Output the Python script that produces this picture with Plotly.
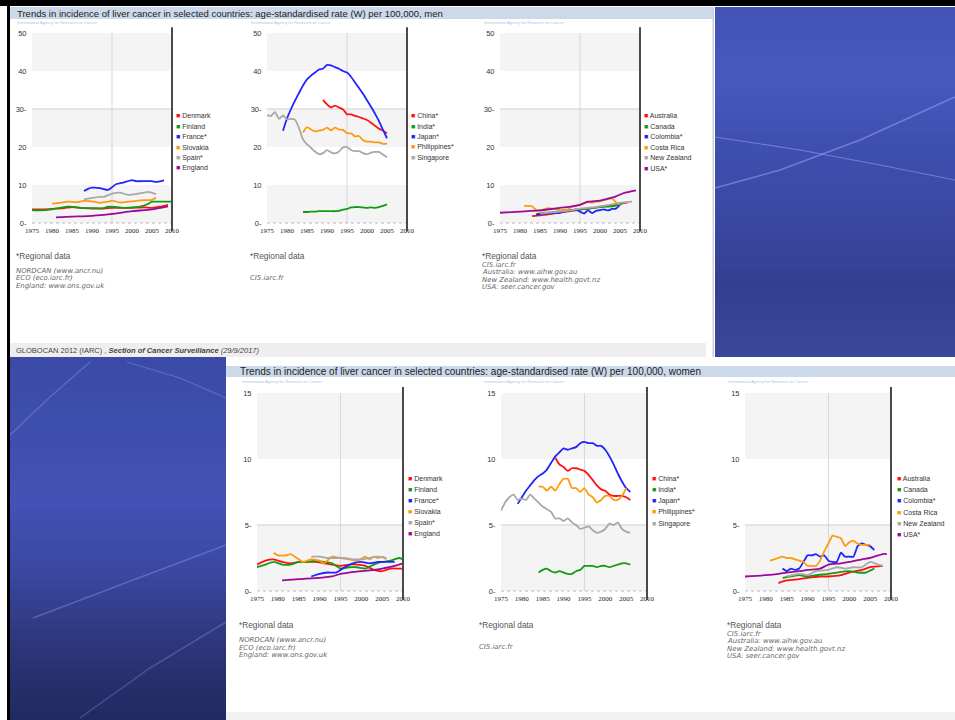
import plotly.graph_objects as go

W, H = 955, 720

# ---------------- data ----------------
YEAR_TICKS = [1975, 1980, 1985, 1990, 1995, 2000, 2005, 2010]
YEAR_LABELS = ["1975", "1980", "1985", "1990", "1995", "2000", "2005", "2010"]
MEN_Y_TICKS = [0, 10, 20, 30, 40, 50]
MEN_Y_LABELS = ["0-", "10", "20", "30-", "40", "50"]
WOMEN_Y_TICKS = [0, 5, 10, 15]
WOMEN_Y_LABELS = ["0-", "5-", "10", "15"]

EU_NAMES = ["Denmark", "Finland", "France*", "Slovakia", "Spain*", "England"]
AS_NAMES = ["China*", "India*", "Japan*", "Philippines*", "Singapore"]
AM_NAMES = ["Australia", "Canada", "Colombia*", "Costa Rica", "New Zealand", "USA*"]

DK_M_X = [1975, 1978, 1980, 1983, 1985, 1988, 1990, 1993, 1995, 1998, 2000, 2003, 2005, 2007, 2009]
DK_M_Y = [3.6, 3.6, 3.7, 3.9, 4.2, 3.9, 3.8, 3.8, 4.0, 4.0, 4.0, 4.1, 4.0, 4.3, 4.8]
FI_M_X = [1975, 1977, 1980, 1982, 1984, 1986, 1988, 1990, 1993, 1994, 1996, 1998, 2000, 2002, 2004, 2005, 2007, 2010]
FI_M_Y = [3.4, 3.3, 3.6, 4.0, 4.3, 4.2, 3.9, 3.9, 3.9, 4.3, 4.2, 4.0, 4.1, 4.3, 5.0, 5.6, 5.6, 5.6]
FR_M_X = [1988, 1989, 1990, 1992, 1994, 1995, 1996, 1998, 2000, 2001, 2003, 2005, 2006, 2008]
FR_M_Y = [8.4, 9.0, 9.3, 9.2, 8.7, 9.4, 10.2, 10.7, 11.3, 11.0, 11.0, 11.0, 10.8, 11.2]
SK_M_X = [1980, 1982, 1984, 1986, 1988, 1990, 1992, 1994, 1995, 1997, 2000, 2003, 2005, 2006]
SK_M_Y = [5.1, 5.3, 5.6, 5.5, 5.8, 5.7, 5.3, 5.6, 5.9, 5.4, 5.7, 6.0, 6.1, 6.7]
ES_M_X = [1988, 1990, 1992, 1993, 1995, 1997, 1999, 2001, 2003, 2004, 2006]
ES_M_Y = [6.2, 6.6, 6.9, 6.9, 7.7, 8.0, 7.4, 7.6, 8.0, 8.2, 7.6]
EN_M_X = [1981, 1985, 1990, 1995, 2000, 2005, 2009]
EN_M_Y = [1.5, 1.7, 1.9, 2.4, 3.1, 3.6, 4.4]

CN_M_X = list(range(1989, 2006))
CN_M_Y = [32.4, 31.2, 30.4, 30.9, 30.4, 29.9, 28.6, 28.6, 28.2, 27.9, 27.5, 27.1, 26.4, 25.6, 24.8, 24.3, 23.6]
IN_M_X = list(range(1984, 2006))
IN_M_Y = [2.9, 2.9, 3.0, 3.0, 3.1, 3.1, 3.1, 3.1, 3.1, 3.2, 3.5, 3.7, 4.1, 4.2, 4.2, 4.1, 4.0, 4.1, 4.0, 4.2, 4.5, 4.9]
JP_M_X = list(range(1979, 2006))
JP_M_Y = [24.3, 27.5, 30.0, 32.2, 34.2, 36.2, 37.8, 38.8, 39.6, 40.4, 40.6, 41.6, 41.5, 41.0, 40.6, 40.0, 39.6,
          38.5, 37.0, 35.5, 34.0, 32.3, 30.6, 28.8, 26.8, 24.5, 22.3]
PH_M_X = list(range(1984, 2006))
PH_M_Y = [23.8, 25.2, 24.6, 24.1, 24.3, 24.5, 25.1, 24.4, 25.1, 24.6, 24.5, 23.6, 23.6, 22.8, 22.9, 21.8, 21.4,
          21.4, 21.2, 21.2, 20.8, 20.9]
SG_M_X = list(range(1975, 2006))
SG_M_Y = [28.3, 28.2, 29.2, 27.4, 28.3, 27.3, 27.4, 27.2, 25.0, 22.0, 20.7, 19.8, 18.8, 18.1, 18.4, 19.2, 18.6,
          18.3, 18.8, 19.9, 20.0, 19.2, 18.9, 18.9, 18.4, 18.1, 18.5, 18.7, 18.7, 18.0, 17.3]

AU_M_X = [1983, 1985, 1988, 1990, 1993, 1995, 1998, 2000, 2003, 2005, 2007]
AU_M_Y = [1.8, 2.0, 2.4, 2.8, 3.2, 3.5, 3.9, 4.3, 4.7, 5.1, 5.4]
CA_M_X = [1984, 1986, 1988, 1990, 1992, 1995, 1998, 2000, 2002, 2004, 2005, 2006]
CA_M_Y = [2.3, 2.7, 2.8, 3.1, 3.3, 3.5, 3.9, 4.2, 4.3, 4.6, 4.9, 5.3]
CO_M_X = list(range(1984, 2006))
CO_M_Y = [2.2, 2.3, 2.4, 2.5, 2.6, 2.6, 2.7, 3.0, 3.2, 3.4, 3.6, 3.0, 2.5, 3.3, 2.6, 3.2, 3.4, 3.6, 3.3, 3.7, 3.8, 4.8]
CR_M_X = list(range(1981, 2006))
CR_M_Y = [4.5, 4.5, 4.4, 3.5, 3.3, 3.6, 3.9, 3.8, 3.6, 3.4, 3.5, 3.6, 4.3, 4.6, 4.8, 5.2, 5.5, 5.3, 5.6, 5.7,
          6.0, 6.3, 6.5, 5.4, 4.8]
NZ_M_X = [1985, 1988, 1990, 1993, 1995, 1998, 2000, 2003, 2005, 2008]
NZ_M_Y = [2.5, 2.8, 3.0, 3.4, 3.8, 4.1, 4.4, 4.9, 5.3, 5.6]
US_M_X = [1975, 1980, 1985, 1988, 1990, 1993, 1995, 1997, 2000, 2002, 2004, 2006, 2008, 2009]
US_M_Y = [2.7, 3.0, 3.3, 3.7, 4.0, 4.4, 4.8, 5.6, 5.9, 6.4, 7.0, 7.9, 8.4, 8.6]

DK_W_X = [1975, 1977, 1979, 1981, 1983, 1985, 1987, 1989, 1991, 1993, 1995, 1997, 1999, 2001, 2003, 2005, 2007, 2009, 2010]
DK_W_Y = [2.0, 2.3, 2.4, 2.2, 2.1, 2.2, 2.2, 2.2, 2.1, 2.0, 1.9, 2.0, 2.0, 1.9, 1.6, 1.5, 1.7, 1.7, 1.7]
FI_W_X = [1975, 1977, 1979, 1981, 1983, 1985, 1987, 1989, 1991, 1993, 1995, 1997, 1999, 2001, 2003, 2005, 2007, 2009, 2010]
FI_W_Y = [1.8, 2.0, 2.2, 2.0, 2.0, 2.2, 2.2, 2.3, 2.2, 2.1, 1.7, 1.8, 1.8, 1.7, 2.0, 2.2, 2.3, 2.5, 2.4]
FR_W_X = [1988, 1990, 1992, 1994, 1996, 1998, 2000, 2002, 2004, 2006, 2008]
FR_W_Y = [1.1, 1.3, 1.4, 1.4, 1.8, 2.1, 2.2, 2.1, 2.2, 2.2, 2.2]
SK_W_X = [1979, 1980, 1982, 1983, 1985, 1986, 1988, 1990, 1991, 1993, 1995, 1997, 1999, 2001, 2002, 2003, 2004, 2005, 2006]
SK_W_Y = [2.9, 2.7, 2.7, 2.8, 2.4, 2.2, 2.4, 2.3, 2.1, 2.6, 2.5, 2.4, 2.3, 2.6, 2.4, 2.6, 2.5, 2.6, 2.4]
ES_W_X = [1988, 1990, 1992, 1994, 1996, 1998, 2000, 2002, 2004, 2006]
ES_W_Y = [2.6, 2.6, 2.5, 2.5, 2.5, 2.4, 2.4, 2.5, 2.6, 2.5]
EN_W_X = [1981, 1985, 1990, 1993, 1995, 1997, 2000, 2003, 2005, 2008, 2010]
EN_W_Y = [0.8, 0.9, 1.0, 1.1, 1.3, 1.4, 1.5, 1.6, 1.7, 1.9, 2.1]

CN_W_X = list(range(1988, 2007))
CN_W_Y = [10.1, 9.6, 9.4, 9.1, 9.3, 9.3, 9.2, 9.1, 8.8, 8.4, 8.0, 7.7, 7.6, 7.3, 7.2, 7.2, 7.2, 7.1, 6.9]
IN_W_X = list(range(1984, 2007))
IN_W_Y = [1.4, 1.6, 1.7, 1.5, 1.4, 1.5, 1.4, 1.3, 1.3, 1.5, 1.6, 1.9, 1.9, 1.9, 1.8, 1.9, 1.9, 1.8, 1.9, 2.0,
          2.1, 2.1, 2.0]
JP_W_X = list(range(1979, 2007))
JP_W_Y = [6.6, 7.1, 7.6, 8.0, 8.4, 8.7, 8.9, 9.2, 9.7, 10.2, 10.5, 10.8, 10.7, 10.8, 10.9, 11.2, 11.3, 11.2,
          11.2, 11.0, 11.0, 10.7, 10.2, 9.6, 8.9, 8.3, 7.8, 7.5]
PH_W_X = list(range(1984, 2006))
PH_W_Y = [7.9, 7.9, 7.6, 7.9, 7.6, 8.1, 8.5, 8.5, 7.8, 7.8, 7.5, 7.8, 7.3, 7.1, 6.7, 6.9, 7.2, 7.2, 6.9, 6.9,
          7.2, 7.8]
SG_W_X = list(range(1975, 2007))
SG_W_Y = [6.1, 6.7, 7.1, 7.3, 6.9, 7.0, 6.9, 7.3, 7.0, 6.7, 6.4, 6.2, 6.0, 5.5, 5.5, 5.3, 5.5, 5.2, 5.0, 4.7,
          4.8, 4.9, 4.6, 4.4, 4.5, 4.7, 5.1, 5.0, 5.2, 4.7, 4.5, 4.4]

AU_W_X = [1983, 1985, 1988, 1990, 1993, 1995, 1998, 2000, 2003, 2005, 2008]
AU_W_Y = [0.6, 0.8, 0.9, 1.0, 1.1, 1.1, 1.2, 1.4, 1.6, 1.8, 1.9]
CA_W_X = [1984, 1986, 1988, 1990, 1992, 1995, 1997, 2000, 2002, 2004, 2006]
CA_W_Y = [1.0, 1.1, 1.2, 1.1, 1.2, 1.3, 1.4, 1.5, 1.4, 1.4, 1.7]
CO_W_X = list(range(1984, 2007))
CO_W_Y = [1.7, 1.5, 1.7, 1.6, 1.7, 2.2, 2.7, 2.7, 2.8, 2.6, 2.7, 2.3, 2.2, 2.2, 2.9, 2.6, 2.6, 2.6, 3.4, 3.6,
          3.5, 3.4, 3.1]
CR_W_X = list(range(1981, 2006))
CR_W_Y = [2.3, 2.4, 2.5, 2.6, 2.5, 2.5, 2.4, 2.3, 2.2, 1.9, 1.9, 1.9, 2.3, 3.0, 3.6, 4.2, 4.1, 4.0, 3.4, 3.7,
          3.8, 3.6, 3.5, 3.5, 3.5]
NZ_W_X = [1985, 1988, 1990, 1992, 1995, 1997, 1999, 2001, 2003, 2005, 2007, 2008]
NZ_W_Y = [1.1, 1.3, 1.2, 1.5, 1.6, 1.8, 1.7, 1.8, 1.8, 2.2, 2.0, 1.9]
US_W_X = [1975, 1980, 1983, 1985, 1988, 1990, 1993, 1995, 1998, 2000, 2003, 2005, 2008, 2009]
US_W_Y = [1.1, 1.2, 1.3, 1.4, 1.5, 1.6, 1.7, 2.0, 2.1, 2.2, 2.4, 2.5, 2.8, 2.8]

TITLE_MEN = "Trends in incidence of liver cancer in selected countries: age-standardised rate (W) per 100,000, men"
TITLE_WOMEN = "Trends in incidence of liver cancer in selected countries: age-standardised rate (W) per 100,000, women"
SRC_EU = ["NORDCAN (www.ancr.nu)", "ECO (eco.iarc.fr)", "England: www.ons.gov.uk"]
SRC_AS = ["CI5.iarc.fr"]
SRC_AM = ["CI5.iarc.fr", "Australia: www.aihw.gov.au", "New Zealand: www.health.govt.nz", "USA: seer.cancer.gov"]

RED, GREEN, BLUE, ORANGE, GRAY, PURPLE = "#ff1010", "#139a13", "#1f24ff", "#ff9a10", "#a8a8a8", "#9a0a9a"
C6 = [RED, GREEN, BLUE, ORANGE, GRAY, PURPLE]
C5 = [RED, GREEN, BLUE, ORANGE, GRAY]
SANS = "Liberation Sans, Arial, sans-serif"
SERIF = "Liberation Serif, Times New Roman, serif"
WIDE = "DejaVu Sans, Verdana, sans-serif"

PANELS = [
    dict(names=EU_NAMES, colors=C6, box=(32, 172, 33, 223), men=True, leg=(175, 115.5, 10.6),
         series=[(DK_M_X, DK_M_Y), (FI_M_X, FI_M_Y), (FR_M_X, FR_M_Y), (SK_M_X, SK_M_Y), (ES_M_X, ES_M_Y), (EN_M_X, EN_M_Y)]),
    dict(names=AS_NAMES, colors=C5, box=(267, 407, 33, 223), men=True, leg=(410, 115.5, 10.6),
         series=[(CN_M_X, CN_M_Y), (IN_M_X, IN_M_Y), (JP_M_X, JP_M_Y), (PH_M_X, PH_M_Y), (SG_M_X, SG_M_Y)]),
    dict(names=AM_NAMES, colors=C6, box=(500, 640, 33, 223), men=True, leg=(643, 115.5, 10.6),
         series=[(AU_M_X, AU_M_Y), (CA_M_X, CA_M_Y), (CO_M_X, CO_M_Y), (CR_M_X, CR_M_Y), (NZ_M_X, NZ_M_Y), (US_M_X, US_M_Y)]),
    dict(names=EU_NAMES, colors=C6, box=(257, 403, 393, 591), men=False, leg=(407, 478.5, 11.1),
         series=[(DK_W_X, DK_W_Y), (FI_W_X, FI_W_Y), (FR_W_X, FR_W_Y), (SK_W_X, SK_W_Y), (ES_W_X, ES_W_Y), (EN_W_X, EN_W_Y)]),
    dict(names=AS_NAMES, colors=C5, box=(501, 647, 393, 591), men=False, leg=(651, 478.5, 11.3),
         series=[(CN_W_X, CN_W_Y), (IN_W_X, IN_W_Y), (JP_W_X, JP_W_Y), (PH_W_X, PH_W_Y), (SG_W_X, SG_W_Y)]),
    dict(names=AM_NAMES, colors=C6, box=(745, 891, 393, 591), men=False, leg=(896, 478.5, 11.2),
         series=[(AU_W_X, AU_W_Y), (CA_W_X, CA_W_Y), (CO_W_X, CO_W_Y), (CR_W_X, CR_W_Y), (NZ_W_X, NZ_W_Y), (US_W_X, US_W_Y)]),
]


def fx(px):
    return px / W


def fy(py):
    return 1 - py / H


fig = go.Figure()
shapes = []
annotations = []


def rect(x0, y0, x1, y1, color, layer="below"):
    shapes.append(dict(type="rect", xref="paper", yref="paper", x0=fx(x0), x1=fx(x1), y0=fy(y0), y1=fy(y1),
                       fillcolor=color, line=dict(width=0), layer=layer))


def text(x, y, s, size=8, color="#333", family=SANS, anchor="left"):
    annotations.append(dict(xref="paper", yref="paper", x=fx(x), y=fy(y), text=s, showarrow=False,
                            xanchor=anchor, yanchor="middle", borderpad=0,
                            font=dict(size=size, color=color, family=family)))


def hexrgb(h):
    h = h.lstrip("#")
    return tuple(int(h[i:i + 2], 16) for i in (0, 2, 4))


def gradient(x0, y0, x1, y1, stops, n=36):
    step = (y1 - y0) / n
    for i in range(n):
        t = i / (n - 1)
        seg = min(int(t * (len(stops) - 1)), len(stops) - 2)
        lt = t * (len(stops) - 1) - seg
        a, b = hexrgb(stops[seg]), hexrgb(stops[seg + 1])
        c = tuple(round(a[k] + (b[k] - a[k]) * lt) for k in range(3))
        rect(x0, y0 + i * step, x1, min(y1, y0 + (i + 1) * step + 2), "rgb(%d,%d,%d)" % c)


def streak(pts, alpha=0.35, width=1.5):
    path = "M " + " L ".join("%f,%f" % (fx(px), fy(py)) for px, py in pts)
    shapes.append(dict(type="path", xref="paper", yref="paper", path=path,
                       line=dict(color="rgba(170,185,255,%s)" % alpha, width=width), layer="below"))


gradient(715, 7, 955, 357, ["#4454b6", "#4759be", "#3f4faf", "#3a48a2", "#333f92", "#3a4699"])
gradient(10, 357, 226, 720, ["#3b4aa4", "#3f4fae", "#4352b4", "#3a48a0", "#2c3679", "#222a62"])
streak([(715, 137), (800, 150), (880, 165), (955, 180)], 0.45, 1.2)
streak([(715, 188), (780, 170), (860, 140), (955, 97)], 0.45, 1.5)
streak([(10, 435), (50, 397), (90, 362)], 0.3, 1.2)
streak([(127, 362), (180, 378), (226, 398)], 0.3, 1.2)
streak([(33, 618), (120, 585), (226, 545)], 0.3, 1.5)
streak([(80, 718), (150, 668), (226, 622)], 0.25, 1.5)

rect(0, 0, 955, 6, "#000000")
rect(7, 0, 10, 720, "#000000", layer="above")
rect(712.5, 7, 714, 357, "#d0d0d0")
rect(10, 7, 713, 19, "#ccd9ea")
rect(226, 366, 955, 377, "#ccd9ea")
rect(10, 343, 706, 357, "#eeeeee")
rect(226, 712, 955, 720, "#f2f2f2")

text(16, 13, TITLE_MEN, size=9.5, color="#222")
text(239, 371.5, TITLE_WOMEN, size=10, color="#222")
text(15, 350, "GLOBOCAN 2012 (IARC) , <b><i>Section of Cancer Surveillance</i></b> <i>(29/9/2017)</i>",
     size=7.5, color="#444")

for px, py in [(16, 22), (250, 22), (483, 22), (241, 381), (483, 381), (727, 381)]:
    text(px, py, "International Agency for Research on Cancer", size=4, color="#a9c6e3")

FOOT = [(15, 256, SRC_EU, [270.5, 278, 285.5]), (249, 256, SRC_AS, [277.5]),
        (481, 256, SRC_AM, [264.5, 272, 279.5, 287]),
        (238, 625, SRC_EU, [640, 647.5, 655]), (478, 625, SRC_AS, [647]),
        (726, 625, SRC_AM, [633.5, 641, 648.5, 656])]
for px, py, lines, ys in FOOT:
    text(px, py, "*Regional data", size=8.3, color="#555")
    for s, yy in zip(lines, ys):
        text(px, yy, "<i>%s</i>" % s, size=6.9, color="#666", family=WIDE)

for i, p in enumerate(PANELS):
    k = "" if i == 0 else str(i + 1)
    xa, ya = "x" + k, "y" + k
    x0, x1, y0, y1 = p["box"]
    ymax = 50 if p["men"] else 15
    yt = MEN_Y_TICKS if p["men"] else WOMEN_Y_TICKS
    ytt = MEN_Y_LABELS if p["men"] else WOMEN_Y_LABELS
    fig.layout["xaxis" + k] = dict(domain=[fx(x0), fx(x1)], range=[1975, 2010], anchor=ya,
                                   tickvals=YEAR_TICKS, ticktext=YEAR_LABELS, showgrid=False, zeroline=False,
                                   showline=False, ticks="outside", ticklen=1, tickcolor="rgba(0,0,0,0)",
                                   tickfont=dict(size=7, family=SERIF, color="#222"), fixedrange=True,
                                   automargin=False)
    fig.layout["yaxis" + k] = dict(domain=[fy(y1), fy(y0)], range=[0, ymax], anchor=xa,
                                   tickvals=yt, ticktext=ytt, showgrid=False, zeroline=False, showline=False,
                                   ticks="outside", ticklen=3, tickcolor="rgba(0,0,0,0)",
                                   tickfont=dict(size=7.5, family=SANS, color="#333"), fixedrange=True,
                                   automargin=False)
    if p["men"]:
        bands = [(0, 10), (20, 30), (40, 50)]
        gl = 30
    else:
        bands = [(0, 5), (10, 15)]
        gl = 5
    for b0, b1 in bands:
        shapes.append(dict(type="rect", xref=xa + " domain", yref=ya, x0=0, x1=1, y0=b0, y1=b1,
                           fillcolor="#f4f4f4", line=dict(width=0), layer="below"))
    shapes.append(dict(type="line", xref=xa + " domain", yref=ya, x0=0, x1=1, y0=gl, y1=gl,
                       line=dict(color="#dcdcdc", width=1.5), layer="below"))
    shapes.append(dict(type="line", xref=xa, yref=ya + " domain", x0=1995, x1=1995, y0=0, y1=1,
                       line=dict(color="#d6d6d6", width=1), layer="below"))
    shapes.append(dict(type="line", xref=xa + " domain", yref=ya + " domain", x0=1.0, x1=1.0, y0=-0.045,
                       y1=1.03, line=dict(color="#4a4a4a", width=2), layer="above"))
    shapes.append(dict(type="line", xref=xa + " domain", yref=ya + " domain", x0=0, x1=1, y0=0, y1=0,
                       line=dict(color="#bbbbbb", width=1, dash="dot"), layer="below"))
    for (sx, sy), name, col in zip(p["series"], p["names"], p["colors"]):
        fig.add_trace(go.Scatter(x=sx, y=sy, xaxis=xa, yaxis=ya, mode="lines", name=name,
                                 line=dict(color=col, width=1.8, shape="spline", smoothing=0.5),
                                 showlegend=False, hoverinfo="name+x+y"))
    lx, ly, step = p["leg"]
    for j, (name, col) in enumerate(zip(p["names"], p["colors"])):
        text(lx, ly + j * step, "<span style='color:%s'>■</span> %s" % (col, name), size=7, color="#333")

fig.update_layout(width=W, height=H, margin=dict(l=0, r=0, t=0, b=0, pad=0, autoexpand=False),
                  paper_bgcolor="white", plot_bgcolor="white", shapes=shapes, annotations=annotations,
                  showlegend=False, font=dict(family=SANS))

POST = ("document.body.style.margin='0';document.body.style.overflow='hidden';"
        "document.documentElement.style.overflow='hidden';"
        "var d=document.querySelector('.plotly-graph-div');"
        "if(d){d.style.position='fixed';d.style.left='0px';d.style.top='0px';}")

fig.write_html("out.html", config={"displayModeBar": False}, post_script=POST)
